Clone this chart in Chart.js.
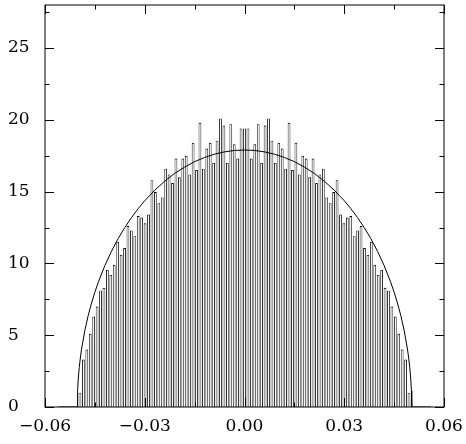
<!DOCTYPE html>
<html>
<head>
<meta charset="utf-8">
<script src="https://cdn.jsdelivr.net/npm/chart.js@4.4.1/dist/chart.umd.min.js"></script>
<style>
  html, body { margin: 0; padding: 0; background: #fff; }
  #wrap { width: 466px; height: 444px; }
</style>
</head>
<body>
<div id="wrap"><canvas id="histo" width="466" height="444"></canvas></div>
<script>
// bin centres (97 bins between -0.05 and 0.05)
var binCenters = [
  -0.04948, -0.04845, -0.04742, -0.04639, -0.04536, -0.04433, -0.04330, -0.04227, -0.04124, -0.04021,
  -0.03918, -0.03814, -0.03711, -0.03608, -0.03505, -0.03402, -0.03299, -0.03196, -0.03093, -0.02990,
  -0.02887, -0.02784, -0.02680, -0.02577, -0.02474, -0.02371, -0.02268, -0.02165, -0.02062, -0.01959,
  -0.01856, -0.01753, -0.01649, -0.01546, -0.01443, -0.01340, -0.01237, -0.01134, -0.01031, -0.00928,
  -0.00825, -0.00722, -0.00619, -0.00515, -0.00412, -0.00309, -0.00206, -0.00103, 0,
  0.00103, 0.00206, 0.00309, 0.00412, 0.00515, 0.00619, 0.00722, 0.00825, 0.00928, 0.01031,
  0.01134, 0.01237, 0.01340, 0.01443, 0.01546, 0.01649, 0.01753, 0.01856, 0.01959, 0.02062,
  0.02165, 0.02268, 0.02371, 0.02474, 0.02577, 0.02680, 0.02784, 0.02887, 0.02990, 0.03093,
  0.03196, 0.03299, 0.03402, 0.03505, 0.03608, 0.03711, 0.03814, 0.03918, 0.04021, 0.04124,
  0.04227, 0.04330, 0.04433, 0.04536, 0.04639, 0.04742, 0.04845, 0.04948
];

var counts = [
  1.0, 3.3, 4.0, 5.1, 6.3, 7.0, 8.1, 8.3, 9.55, 9.2,
  9.9, 11.5, 10.6, 11.07, 12.6, 12.3, 11.9, 13.3, 13.2, 12.8,
  13.4, 15.8, 14.97, 14.2, 14.6, 16.6, 16.2, 15.6, 17.3, 16.0,
  17.3, 17.5, 16.2, 18.4, 16.5, 19.8, 16.6, 18.0, 18.4, 17.0,
  18.55, 20.1, 19.6, 17.0, 19.7, 18.3, 17.3, 19.4, 19.4,
  19.4, 17.3, 18.3, 19.7, 17.0, 19.6, 20.1, 18.55, 17.0, 18.4,
  18.0, 16.6, 19.8, 16.5, 18.4, 16.2, 17.5, 17.3, 16.0, 17.3,
  15.6, 16.2, 16.6, 14.6, 14.2, 14.97, 15.8, 13.4, 12.8, 13.2,
  13.3, 11.9, 12.3, 12.6, 11.07, 10.6, 11.5, 9.9, 9.2, 9.55,
  8.3, 8.1, 7.0, 6.3, 5.1, 4.0, 3.3, 1.0
];

// semicircle curve
var curveX = [
  -0.056, -0.0503, -0.0502, -0.050, -0.0497, -0.0493, -0.049, -0.048, -0.047, -0.046,
  -0.045, -0.044, -0.042, -0.040, -0.038, -0.036, -0.034, -0.032, -0.030, -0.027,
  -0.024, -0.021, -0.018, -0.015, -0.012, -0.009, -0.006, -0.003, 0,
  0.003, 0.006, 0.009, 0.012, 0.015, 0.018, 0.021, 0.024, 0.027, 0.030,
  0.032, 0.034, 0.036, 0.038, 0.040, 0.042, 0.044, 0.045, 0.046, 0.047,
  0.048, 0.049, 0.0493, 0.0497, 0.050, 0.0502, 0.0503, 0.056
];
var curveY = [
  0, 0, 1.13, 1.95, 2.76, 3.55, 4.04, 5.35, 6.38, 7.24,
  8.00, 8.67, 9.85, 10.85, 11.73, 12.50, 13.19, 13.81, 14.37, 15.10,
  15.73, 16.27, 16.71, 17.09, 17.38, 17.61, 17.77, 17.87, 17.9,
  17.87, 17.77, 17.61, 17.38, 17.09, 16.71, 16.27, 15.73, 15.10, 14.37,
  13.81, 13.19, 12.50, 11.73, 10.85, 9.85, 8.67, 8.00, 7.24, 6.38,
  5.35, 4.04, 3.55, 2.76, 1.95, 1.13, 0, 0
];

var xMajor = [-0.06, -0.03, 0, 0.03, 0.06];
var xLabels = ["\u22120.06", "\u22120.03", "0.00", "0.03", "0.06"];
var xMinor = [-0.045, -0.015, 0.015, 0.045];
var yMajor = [0, 5, 10, 15, 20, 25];
var yLabels = ["0", "5", "10", "15", "20", "25"];
var yMinor = [2.5, 7.5, 12.5, 17.5, 22.5, 27.5];

// frame box plus inward ticks on all four sides
var frameTicks = {
    id: "frameTicks",
    afterDatasetsDraw: function (chart) {
        var ctx = chart.ctx, a = chart.chartArea;
        var sx = chart.scales.x, sy = chart.scales.y;
        ctx.save();
        ctx.strokeStyle = "#000";
        ctx.lineWidth = 1;
        ctx.strokeRect(a.left, a.top, a.right - a.left, a.bottom - a.top);
        ctx.beginPath();
        function xt(v, len) {
            var p = Math.round(sx.getPixelForValue(v)) + 0.5;
            ctx.moveTo(p, a.bottom); ctx.lineTo(p, a.bottom - len);
            ctx.moveTo(p, a.top); ctx.lineTo(p, a.top + len);
        }
        function yt(v, len) {
            var p = Math.round(sy.getPixelForValue(v)) + 0.5;
            ctx.moveTo(a.left, p); ctx.lineTo(a.left + len, p);
            ctx.moveTo(a.right, p); ctx.lineTo(a.right - len, p);
        }
        xMajor.forEach(function (v) { xt(v, 9); });
        xMinor.forEach(function (v) { xt(v, 4.5); });
        yMajor.forEach(function (v) { yt(v, 9); });
        yMinor.forEach(function (v) { yt(v, 4.5); });
        ctx.stroke();
        ctx.restore();
    }
};

var tickFont = { family: "DejaVu Serif", size: 17 };

var ctx = document.getElementById("histo");
var histoChart = new Chart(ctx, {
    type: "bar",
    data: {
        datasets: [
            {
                type: "line",
                data: curveX.map(function (x, i) { return { x: x, y: curveY[i] }; }),
                borderColor: "#000",
                borderWidth: 1,
                pointRadius: 0,
                tension: 0,
                fill: false,
                order: 0
            },
            {
                type: "bar",
                data: binCenters.map(function (x, i) { return { x: x, y: counts[i] }; }),
                backgroundColor: "#fff",
                borderColor: "#000",
                borderWidth: 0.9,
                barPercentage: 0.8,
                categoryPercentage: 1.0,
                order: 1
            }
        ]
    },
    options: {
        responsive: false,
        animation: false,
        layout: { padding: { top: 5, right: 22, left: 8, bottom: 0 } },
        plugins: { legend: { display: false }, tooltip: { enabled: false } },
        scales: {
            x: {
                type: "linear",
                min: -0.06,
                max: 0.06,
                offset: false,
                grid: { display: false },
                border: { display: false },
                afterBuildTicks: function (s) { s.ticks = xMajor.map(function (v) { return { value: v }; }); },
                afterFit: function (s) { s.height = 37; s.paddingLeft = 0; s.paddingRight = 0; },
                ticks: {
                    autoSkip: false,
                    maxRotation: 0,
                    padding: 1,
                    color: "#000",
                    font: tickFont,
                    callback: function (v) { return xLabels[xMajor.indexOf(v)]; }
                }
            },
            y: {
                min: 0,
                max: 28,
                grid: { display: false },
                border: { display: false },
                afterBuildTicks: function (s) { s.ticks = yMajor.map(function (v) { return { value: v }; }); },
                afterFit: function (s) { s.width = 37; s.paddingTop = 0; s.paddingBottom = 0; },
                ticks: {
                    crossAlign: "far",
                    padding: 12,
                    color: "#000",
                    font: tickFont,
                    callback: function (v) { return yLabels[yMajor.indexOf(v)]; }
                }
            }
        }
    },
    plugins: [frameTicks]
});
</script>
</body>
</html>
